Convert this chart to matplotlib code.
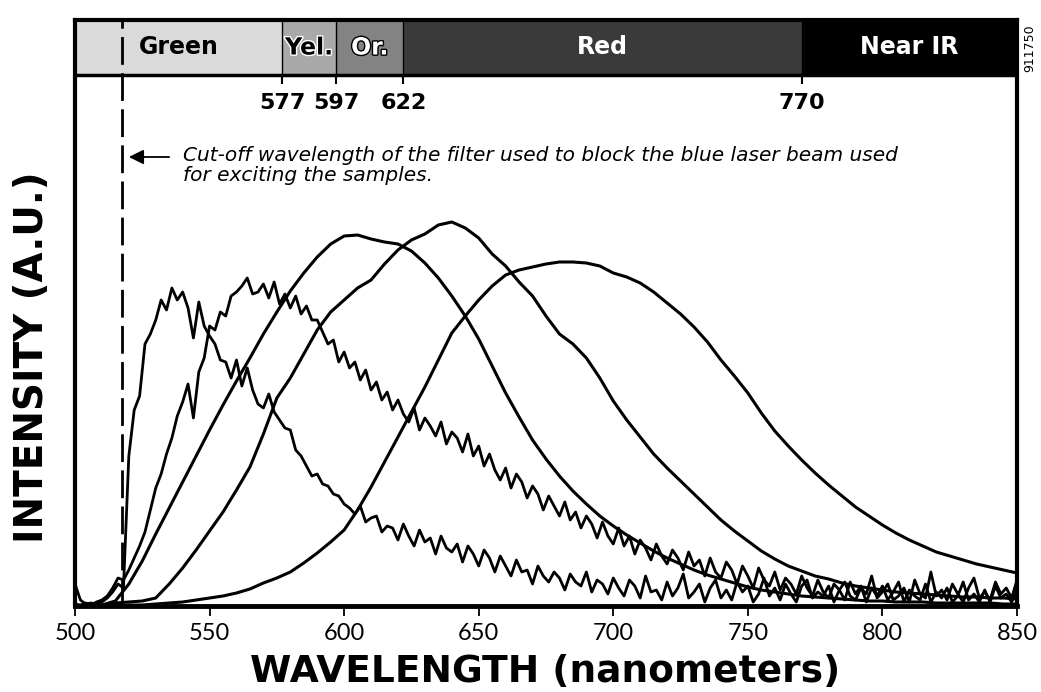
import matplotlib
matplotlib.use('Agg')
import matplotlib.pyplot as plt
import matplotlib.patheffects as pe
import numpy as np

# wavelength grids (nm)
wl_fine = np.arange(500, 851, 2)
wl_coarse = np.arange(500, 851, 5)

# noisy spectrum peaking near 535 nm
spec_535 = [22, 6, 2, 3, 2, 4, 8, 14, 22, 18,
            150, 196, 210, 262, 272, 286, 306, 296, 318, 306,
            314, 298, 268, 304, 280, 270, 262, 246, 244, 228,
            246, 220, 238, 216, 202, 198, 212, 194, 186, 178,
            176, 156, 150, 140, 130, 132, 122, 120, 112, 110,
            102, 98, 92, 100, 84, 88, 90, 74, 80, 78,
            66, 82, 70, 60, 76, 64, 68, 52, 70, 58,
            54, 62, 44, 60, 52, 40, 56, 48, 34, 50,
            40, 30, 46, 34, 36, 22, 40, 30, 24, 34,
            28, 16, 32, 24, 20, 34, 14, 26, 22, 12,
            28, 18, 10, 26, 20, 8, 30, 14, 16, 6,
            24, 10, 18, 32, 8, 14, 22, 4, 18, 26,
            8, 16, 6, 24, 14, 20, 4, 12, 28, 10,
            18, 6, 22, 12, 4, 20, 26, 8, 14, 10,
            20, 4, 16, 24, 10, 6, 18, 12, 30, 8,
            14, 22, 6, 10, 18, 4, 26, 12, 8, 34,
            10, 16, 6, 22, 12, 4, 18, 28, 8, 14,
            6, 24, 12, 18, 8, 26]

# noisy spectrum peaking near 565 nm
spec_565 = [2, 1, 3, 1, 4, 6, 10, 18, 28, 26,
            36, 48, 60, 74, 96, 118, 132, 152, 168, 190,
            204, 222, 188, 234, 248, 280, 276, 294, 290, 310,
            314, 320, 328, 312, 314, 322, 308, 324, 302, 312,
            298, 310, 292, 300, 286, 286, 274, 262, 266, 244,
            254, 238, 244, 226, 236, 216, 224, 206, 214, 196,
            206, 192, 184, 198, 176, 188, 180, 170, 184, 162,
            174, 168, 154, 172, 150, 160, 140, 152, 136, 126,
            138, 118, 132, 124, 108, 120, 112, 96, 110, 100,
            90, 104, 86, 94, 78, 90, 82, 68, 84, 70,
            62, 78, 60, 70, 52, 66, 58, 46, 62, 50,
            42, 56, 48, 36, 54, 40, 46, 30, 48, 34,
            28, 44, 36, 22, 40, 30, 18, 38, 26, 20,
            34, 16, 28, 22, 12, 30, 18, 10, 26, 14,
            8, 22, 16, 6, 24, 12, 20, 4, 18, 10,
            20, 6, 14, 24, 4, 16, 10, 6, 22, 4,
            14, 8, 18, 4, 10, 24, 6, 12, 4, 16,
            4, 20, 8, 12, 4, 16]

# smooth spectrum peaking near 605 nm
spec_605 = [0, 0, 1, 5, 22, 45, 72, 98, 124, 150,
            176, 201, 225, 248, 272, 294, 315, 333, 349, 362,
            370, 371, 367, 364, 362, 355, 343, 328, 310, 290,
            267, 240, 213, 189, 166, 147, 130, 115, 102, 90,
            80, 71, 63, 55, 48, 42, 36, 31, 27, 23,
            19, 16, 14, 12, 10, 9, 8, 7, 6, 5,
            5, 4, 4, 4, 3, 3, 3, 3, 3, 2,
            2]

# slightly noisy spectrum peaking near 640 nm
spec_640 = [0, 0, 1, 3, 4, 5, 8, 22, 38, 56,
            75, 94, 116, 139, 172, 208, 228, 252, 276, 294,
            306, 318, 326, 342, 356, 366, 372, 381, 384, 378,
            368, 352, 340, 324, 310, 290, 272, 262, 248, 228,
            205, 186, 169, 152, 138, 125, 112, 99, 86, 75,
            65, 55, 47, 40, 35, 30, 27, 23, 20, 18,
            16, 14, 13, 12, 11, 10, 9, 9, 8, 8,
            7]

# smooth spectrum peaking near 680 nm
spec_680 = [0, 0, 0, 0, 1, 1, 2, 3, 4, 6,
            8, 10, 13, 17, 23, 28, 34, 43, 53, 64,
            76, 96, 119, 144, 169, 194, 219, 246, 273, 290,
            306, 320, 331, 336, 339, 342, 344, 344, 343, 340,
            333, 329, 323, 314, 303, 292, 279, 264, 246, 230,
            213, 193, 175, 160, 146, 133, 121, 110, 99, 90,
            81, 73, 66, 60, 54, 50, 46, 42, 39, 36,
            33]

cutoff = 517.5
band_edges = [500, 577, 597, 622, 770, 850]
band_names = ['Green', 'Yel.', 'Or.', 'Red', 'Near IR']
band_colors = ['#dadada', '#a9a9a9', '#838383', '#3a3a3a', '#000000']
band_text = ['black', 'black', 'white', 'white', 'white']
band_halo = [None, 'white', 'black', None, None]
band_marks = [577, 597, 622, 770]

ymax = 586
band_bottom = 531

fig = plt.figure(figsize=(10.41, 6.92), dpi=100)
ax = fig.add_axes([75/1041, 86/692, 942/1041, 586/692])

for spec in [spec_535, spec_565]:
    ax.plot(wl_fine, spec, color='black', lw=2.0)
for spec in [spec_605, spec_640, spec_680]:
    ax.plot(wl_coarse, spec, color='black', lw=2.2)

# colour band at the top
frac = band_bottom / ymax
for i, name in enumerate(band_names):
    lo, hi = band_edges[i], band_edges[i + 1]
    ax.axvspan(lo, hi, ymin=frac, ymax=1, color=band_colors[i], lw=0)
    effects = []
    if band_halo[i]:
        effects = [pe.withStroke(linewidth=2, foreground=band_halo[i])]
    ax.text((lo + hi) / 2, (band_bottom + ymax) / 2, name, ha='center', va='center',
            fontsize=17, fontweight='bold', color=band_text[i], path_effects=effects)
ax.axhline(band_bottom, color='black', lw=2.5)
ax.vlines(band_marks, band_bottom, ymax, color='black', lw=1)
ax.vlines(band_marks, band_bottom - 9, band_bottom, color='black', lw=1.5)
for m in band_marks:
    ax.text(m, 503, str(m), ha='center', va='center', fontsize=16, fontweight='bold')

# filter cut-off line and note
ax.axvline(cutoff, color='black', lw=2, ls=(0, (10, 3)))
ax.annotate('', xy=(cutoff + 1.5, 449), xytext=(536, 449),
            arrowprops=dict(arrowstyle='-|>', color='black', lw=1.3, mutation_scale=22))
ax.text(540, 460, 'Cut-off wavelength of the filter used to block the blue laser beam used\n'
        'for exciting the samples.', ha='left', va='top', fontsize=14.5,
        family='DejaVu Sans', style='italic', linespacing=1.05)

ax.set_xlim(500, 850)
ax.set_ylim(0, ymax)
ax.set_yticks([])
ax.set_xticks(range(500, 851, 50))
ax.tick_params(axis='x', direction='out', length=7, width=1.3, pad=5, labelsize=17)
for lab in ax.get_xticklabels():
    lab.set_family('Lato')
for side, w in [('left', 3), ('bottom', 3.5), ('right', 3), ('top', 3)]:
    ax.spines[side].set_linewidth(w)

fig.text(545/1041, 1 - 672/692, 'WAVELENGTH (nanometers)', ha='center', va='center',
         fontsize=27, fontweight='bold')
fig.text(32/1041, 1 - 357/692, 'INTENSITY (A.U.)', ha='center', va='center',
         rotation=90, fontsize=28, fontweight='bold')
fig.text(1030/1041, 1 - 48/692, '911750', ha='center', va='center', rotation=90, fontsize=9)

fig.savefig('out.png', dpi=100)
